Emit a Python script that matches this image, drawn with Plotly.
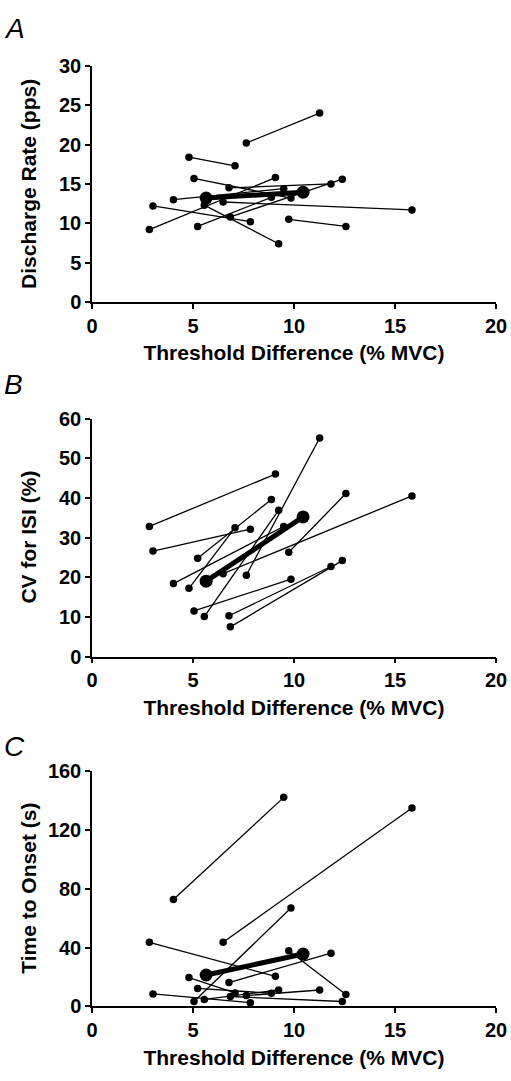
import plotly.graph_objects as go

# Threshold difference (% MVC) for each motor-unit pair: first and second condition
x_low = [2.84, 3.02, 5.56, 4.80, 5.23, 7.64, 9.74, 4.03, 6.49, 5.05, 6.78, 6.85]
x_high = [9.08, 7.84, 9.24, 7.08, 8.88, 11.27, 12.57, 9.49, 15.84, 9.85, 11.83, 12.39]

# Panel A: discharge rate (pps)
rate_low = [9.2, 12.2, 12.3, 18.4, 9.6, 20.2, 10.5, 13.0, 12.7, 15.7, 14.5, 10.8]
rate_high = [15.8, 10.2, 7.4, 17.3, 13.3, 24.0, 9.6, 14.4, 11.7, 13.2, 15.0, 15.6]

# Panel B: CV for ISI (%)
cv_low = [32.8, 26.6, 10.1, 17.2, 24.8, 20.5, 26.3, 18.4, 20.9, 11.5, 10.3, 7.5]
cv_high = [46.0, 32.1, 36.9, 32.5, 39.6, 55.1, 41.1, 32.8, 40.5, 19.5, 22.7, 24.2]

# Panel C: time to onset (s)
onset_low = [43.6, 8.4, 4.7, 19.6, 12.2, 7.3, 37.8, 72.7, 43.6, 3.3, 16.2, 6.7]
onset_high = [20.4, 2.5, 11.1, 9.1, 8.9, 11.1, 8.0, 142.2, 134.9, 66.9, 36.2, 3.3]

# Mean values (thick line)
mean_x = [5.65, 10.45]
mean_rate = [13.2, 13.95]
mean_cv = [19.0, 35.2]
mean_onset = [21.3, 35.6]

panels = [
    ("A", rate_low, rate_high, mean_rate, "Discharge Rate (pps)", [0, 30], [0, 5, 10, 15, 20, 25, 30]),
    ("B", cv_low, cv_high, mean_cv, "CV for ISI (%)", [0, 60], [0, 10, 20, 30, 40, 50, 60]),
    ("C", onset_low, onset_high, mean_onset, "Time to Onset (s)", [0, 160], [0, 40, 80, 120, 160]),
]

x_ticks = [0, 5, 10, 15, 20]

W, H = 511, 1081
ML, MR = 92, 15
PW = W - ML - MR
# plot area vertical pixel extents (top, bottom) for each panel
extents = [(56, 297), (416, 659), (776, 1016)]
letter_y = [18, 381, 751]

FONT = "Liberation Sans, Arial, Helvetica, sans-serif"

fig = go.Figure()
layout = dict(
    width=W, height=H,
    margin=dict(l=ML, r=MR, t=0, b=0),
    paper_bgcolor="white", plot_bgcolor="white",
    showlegend=False,
    font=dict(family=FONT, color="black"),
)
annotations = []

for i, (letter, ylo, yhi, ymean, ytitle, yrange, yticks) in enumerate(panels):
    n = i + 1
    xa = "x" if n == 1 else f"x{n}"
    ya = "y" if n == 1 else f"y{n}"
    xs, ys = [], []
    for a, b, c, d in zip(x_low, x_high, ylo, yhi):
        xs += [a, b, None]
        ys += [c, d, None]
    fig.add_trace(go.Scatter(
        x=xs, y=ys, mode="lines+markers", xaxis=xa, yaxis=ya,
        line=dict(color="black", width=1.3),
        marker=dict(color="black", size=7.5),
        cliponaxis=False, hoverinfo="x+y",
    ))
    fig.add_trace(go.Scatter(
        x=mean_x, y=ymean, mode="lines+markers", xaxis=xa, yaxis=ya,
        line=dict(color="black", width=5),
        marker=dict(color="black", size=13),
        cliponaxis=False,
    ))
    top, bot = extents[i]
    dom = [1 - bot / H, 1 - top / H]
    ax_common = dict(
        showline=True, linecolor="black", linewidth=1.5,
        ticks="outside", ticklen=5, tickwidth=1.5, tickcolor="black",
        showgrid=False, zeroline=False,
        tickfont=dict(family=FONT, size=20, color="black", weight="bold"),
    )
    layout["xaxis" if n == 1 else f"xaxis{n}"] = dict(
        ax_common, domain=[0, 1], range=[0, 20], tickvals=x_ticks,
        anchor=ya,
        title=dict(text="Threshold Difference (% MVC)", standoff=10,
                   font=dict(family=FONT, size=21, color="black", weight="bold")),
    )
    layout["yaxis" if n == 1 else f"yaxis{n}"] = dict(
        ax_common, domain=dom, range=yrange, tickvals=yticks,
        anchor=xa,
    )
    annotations.append(dict(
        text=ytitle, textangle=-90, xref="paper", yref="paper",
        x=(29 - ML) / PW, y=1 - (top + bot) / 2 / H,
        xanchor="center", yanchor="middle", showarrow=False,
        font=dict(family=FONT, size=21, color="black", weight="bold"),
    ))
    annotations.append(dict(
        text=letter, xref="paper", yref="paper",
        x=(2 - ML) / PW, y=1 - letter_y[i] / H,
        xanchor="left", yanchor="middle", showarrow=False,
        font=dict(family=FONT, size=28, color="black", style="italic"),
    ))

layout["annotations"] = annotations
fig.update_layout(**layout)
fig.write_html(
    "out.html",
    config={"displayModeBar": False},
    post_script="document.body.style.margin='0';document.body.style.overflow='hidden';",
)
